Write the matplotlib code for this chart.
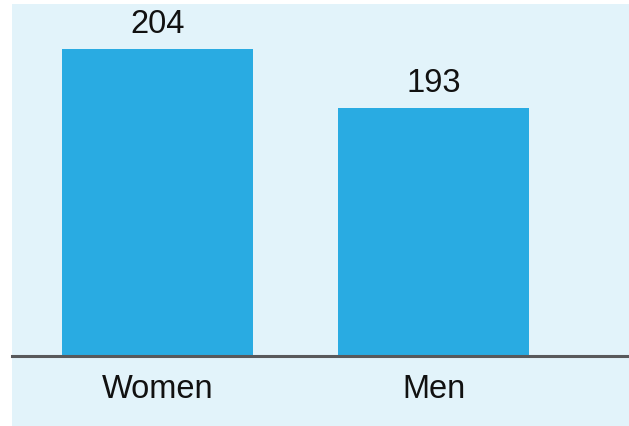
import matplotlib
matplotlib.use("Agg")
import matplotlib.pyplot as plt
from matplotlib.patches import Rectangle

categories = ["Women", "Men"]
values = [204, 193]

bar_color = "#29abe2"
bg_color = "#e2f3fa"

plt.rcParams['font.family'] = ['Liberation Sans', 'DejaVu Sans']

fig = plt.figure(figsize=(6.29, 4.27), dpi=100)
fig.patches.append(Rectangle((12/629, 0), 617/629, 422/427, transform=fig.transFigure,
                             facecolor=bg_color, edgecolor='none', zorder=-5))

ax = fig.add_axes([12/629, 70/427, 617/629, 352/427])
ax.set_zorder(1)
ax.set_facecolor('none')

x = list(range(len(categories)))
bars = ax.bar(x, values, width=0.692, color=bar_color, zorder=2)

for xi, v in zip(x, values):
    ax.annotate(str(v), (xi, v), xytext=(0, 12.2), textcoords='offset points',
                ha='center', va='baseline', fontsize=23.5, color='#111111')

ax.set_xlim(-0.527, 1.708)
ax.set_ylim(146.7, 212.3)
ax.set_xticks(x)
ax.set_xticklabels(categories, fontsize=23.5, color='#111111')
ax.tick_params(axis='x', length=0, pad=12)
ax.set_yticks([])

for s in ['top', 'right', 'left']:
    ax.spines[s].set_visible(False)
ax.spines['bottom'].set_color('#58595b')
ax.spines['bottom'].set_linewidth(2.2)
ax.spines['bottom'].set_zorder(3)

fig.savefig("out.png", dpi=100, facecolor='white')
